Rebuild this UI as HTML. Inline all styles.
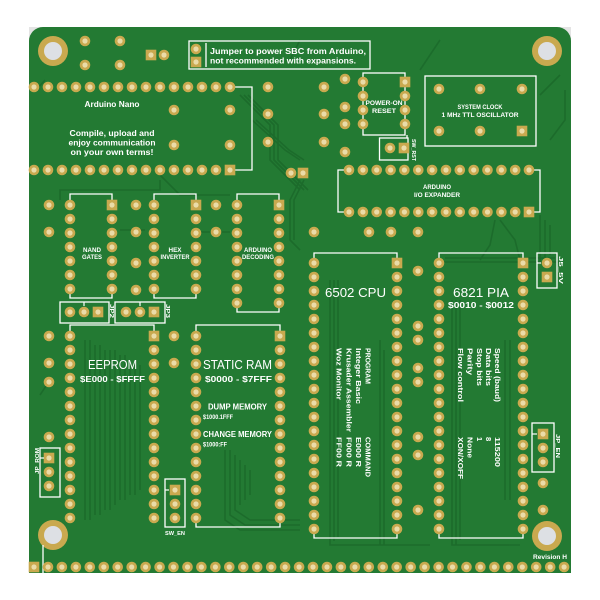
<!DOCTYPE html>
<html><head><meta charset="utf-8"><style>
html,body{margin:0;padding:0;background:#fff;width:600px;height:600px;overflow:hidden}
svg{display:block}
text{font-family:"Liberation Sans",sans-serif;fill:#fff;font-weight:bold}
</style></head><body>
<svg width="600" height="600" viewBox="0 0 600 600" xmlns="http://www.w3.org/2000/svg">
<defs>
<g id="p"><circle r="5.3" fill="#c9a94f"/><circle r="2.6" fill="#eadca8"/></g>
<g id="s"><rect x="-5.3" y="-5.3" width="10.6" height="10.6" fill="#c9a94f"/><circle r="2.6" fill="#eadca8"/></g>
<g id="mh"><circle r="15" fill="#c9a94f"/><circle r="9" fill="#dde0e4"/></g>
</defs>
<!-- corner greys -->
<rect x="29" y="27" width="16" height="16" fill="#e4e4e4"/>
<rect x="555" y="27" width="16" height="16" fill="#e4e4e4"/>
<!-- board -->
<path d="M43 27 H557 A14 14 0 0 1 571 41 V573 H29 V41 A14 14 0 0 1 43 27 Z" fill="#237a33"/>
<!-- traces (darker copper) -->
<g fill="none" stroke="#1c6a2b" stroke-width="1.6" opacity="0.9">
<path d="M240 95 L270 125 L270 160 L300 190"/><path d="M244 95 L274 125 L274 160 L304 190"/><path d="M248 95 L278 125 L278 160 L308 190"/>
<path d="M252 120 L285 150 L300 160"/><path d="M256 120 L289 150 L304 160"/>
<path d="M300 180 L290 200 L290 240 L300 250"/><path d="M304 180 L294 200 L294 240"/>
<path d="M85 340 V520"/><path d="M90 340 V520"/><path d="M95 345 V515"/><path d="M100 345 V515"/><path d="M105 350 V510"/><path d="M110 350 V510"/><path d="M115 350 V505"/><path d="M120 355 V500"/><path d="M125 355 V500"/><path d="M130 360 V495"/><path d="M135 360 V495"/><path d="M140 365 V490"/>
<path d="M225 450 V520 L240 530 H300"/><path d="M230 450 V515 L245 525 H300"/><path d="M235 455 V510 L250 520 H300"/><path d="M240 460 V505"/><path d="M245 465 V500"/><path d="M250 470 V495"/>
<path d="M330 280 V545 H430"/><path d="M334 280 V541"/><path d="M338 280 V537"/><path d="M380 340 V545"/><path d="M384 350 V545"/>
<path d="M452 300 V545 H520"/><path d="M456 300 V545"/><path d="M460 300 V540"/><path d="M505 340 V500"/><path d="M510 340 V500"/>
<path d="M440 262 H560"/><path d="M445 258 H555"/><path d="M540 215 V262"/><path d="M545 220 V258"/><path d="M550 225 V255"/>
<path d="M500 220 L515 240 L520 260"/><path d="M495 220 L490 245 L480 260"/>
<path d="M60 200 V190 H160 V180"/><path d="M120 230 H145"/><path d="M200 232 H230"/>
<path d="M160 175 L180 195 H230"/><path d="M540 95 L560 75"/><path d="M550 140 L565 120 V90"/>
<path d="M36 90 L45 80"/><path d="M50 380 L40 395"/><path d="M300 40 L290 60"/><path d="M420 70 L440 40"/>
</g>
<!-- mounting holes -->
<use href="#mh" x="53" y="51"/><use href="#mh" x="547" y="51"/><use href="#mh" x="53" y="535"/><use href="#mh" x="547" y="536"/>
<!-- silkscreen lines -->
<g fill="none" stroke="#fff" stroke-width="1.3">
<rect x="189" y="41" width="181" height="28"/><line x1="206" y1="43" x2="206" y2="67"/>
<path d="M230 87 H252 V170 H230"/>
<rect x="363" y="73" width="42" height="62"/>
<rect x="379.5" y="138" width="28.5" height="22"/><line x1="407" y1="135" x2="407" y2="138"/>
<rect x="425" y="76" width="111" height="70"/>
<path d="M345 170 H338 V212 H345"/><path d="M533 170 H540 V212 H533"/>
<path d="M70 200 V194 H112 V200"/><path d="M70 294 V298 H112 V294"/>
<path d="M154 200 V194 H196 V200"/><path d="M154 294 V298 H196 V294"/>
<path d="M237 200 V194 H279 V200"/><path d="M237 308 V312 H279 V308"/>
<rect x="60" y="302" width="49" height="21"/><rect x="115" y="302" width="50" height="21"/>
<path d="M70 331 V325 H154 V331"/>
<path d="M196 331 V325 H280 V331"/><path d="M196 522 V527 H280 V522"/>
<path d="M314 258 V253 H397 V258"/><path d="M314 534 V538 H397 V534"/>
<path d="M439 258 V253 H523 V258"/><path d="M439 534 V538 H523 V534"/>
<rect x="537" y="253" width="20" height="35"/>
<rect x="532" y="423" width="22" height="49"/>
<rect x="40" y="448" width="20" height="49"/>
<rect x="165" y="479" width="20" height="48"/>
<line x1="43" y1="545" x2="43" y2="573"/>
</g>
<!-- pads -->
<g>
<!-- arduino nano rows -->
<use href="#p" x="34" y="87"/><use href="#p" x="48" y="87"/><use href="#p" x="62" y="87"/><use href="#p" x="76" y="87"/><use href="#p" x="90" y="87"/><use href="#p" x="104" y="87"/><use href="#p" x="118" y="87"/><use href="#p" x="132" y="87"/><use href="#p" x="146" y="87"/><use href="#p" x="160" y="87"/><use href="#p" x="174" y="87"/><use href="#p" x="188" y="87"/><use href="#p" x="202" y="87"/><use href="#p" x="216" y="87"/><use href="#p" x="230" y="87"/>
<use href="#p" x="34" y="170"/><use href="#p" x="48" y="170"/><use href="#p" x="62" y="170"/><use href="#p" x="76" y="170"/><use href="#p" x="90" y="170"/><use href="#p" x="104" y="170"/><use href="#p" x="118" y="170"/><use href="#p" x="132" y="170"/><use href="#p" x="146" y="170"/><use href="#p" x="160" y="170"/><use href="#p" x="174" y="170"/><use href="#p" x="188" y="170"/><use href="#p" x="202" y="170"/><use href="#p" x="216" y="170"/><use href="#s" x="230" y="170"/>
<use href="#p" x="174" y="110"/><use href="#p" x="230" y="110"/><use href="#p" x="174" y="145"/><use href="#p" x="230" y="145"/>
<use href="#p" x="268" y="87"/><use href="#p" x="268" y="114"/><use href="#p" x="268" y="142"/>
<use href="#p" x="291" y="173"/><use href="#s" x="303" y="173"/>
<!-- top-left -->
<use href="#p" x="85" y="41"/><use href="#p" x="120" y="41"/><use href="#p" x="85" y="65"/><use href="#p" x="120" y="65"/>
<use href="#s" x="151" y="55"/><use href="#p" x="164" y="55"/>
<use href="#p" x="196" y="49"/><use href="#s" x="196" y="62"/>
<!-- top-right cluster -->
<use href="#p" x="324" y="87"/><use href="#p" x="345" y="79"/><use href="#p" x="345" y="107"/><use href="#p" x="324" y="114"/><use href="#p" x="345" y="124"/><use href="#p" x="324" y="142"/><use href="#p" x="345" y="152"/>
<use href="#p" x="363" y="82"/><use href="#p" x="363" y="96"/><use href="#p" x="363" y="110"/><use href="#p" x="363" y="124"/>
<use href="#s" x="405" y="82"/><use href="#p" x="405" y="96"/><use href="#p" x="405" y="110"/><use href="#p" x="405" y="124"/>
<use href="#p" x="390" y="148"/><use href="#s" x="404" y="148"/>
<use href="#p" x="439" y="89"/><use href="#p" x="480" y="89"/><use href="#p" x="522" y="89"/><use href="#p" x="439" y="131"/><use href="#p" x="480" y="131"/><use href="#s" x="522" y="131"/>
<!-- IO expander -->
<use href="#p" x="349" y="170"/><use href="#p" x="362.9" y="170"/><use href="#p" x="376.7" y="170"/><use href="#p" x="390.6" y="170"/><use href="#p" x="404.4" y="170"/><use href="#p" x="418.3" y="170"/><use href="#p" x="432.1" y="170"/><use href="#p" x="446" y="170"/><use href="#p" x="459.8" y="170"/><use href="#p" x="473.7" y="170"/><use href="#p" x="487.5" y="170"/><use href="#p" x="501.4" y="170"/><use href="#p" x="515.2" y="170"/><use href="#p" x="529" y="170"/>
<use href="#p" x="349" y="212"/><use href="#p" x="362.9" y="212"/><use href="#p" x="376.7" y="212"/><use href="#p" x="390.6" y="212"/><use href="#p" x="404.4" y="212"/><use href="#p" x="418.3" y="212"/><use href="#p" x="432.1" y="212"/><use href="#p" x="446" y="212"/><use href="#p" x="459.8" y="212"/><use href="#p" x="473.7" y="212"/><use href="#p" x="487.5" y="212"/><use href="#p" x="501.4" y="212"/><use href="#p" x="515.2" y="212"/><use href="#s" x="529" y="212"/>
<use href="#p" x="314" y="232"/><use href="#p" x="369" y="232"/><use href="#p" x="391" y="232"/><use href="#p" x="418" y="232"/><use href="#p" x="418" y="271"/>
<!-- NAND -->
<use href="#p" x="70" y="205"/><use href="#p" x="70" y="219"/><use href="#p" x="70" y="233"/><use href="#p" x="70" y="247"/><use href="#p" x="70" y="261"/><use href="#p" x="70" y="275"/><use href="#p" x="70" y="289"/>
<use href="#s" x="112" y="205"/><use href="#p" x="112" y="219"/><use href="#p" x="112" y="233"/><use href="#p" x="112" y="247"/><use href="#p" x="112" y="261"/><use href="#p" x="112" y="275"/><use href="#p" x="112" y="289"/>
<use href="#p" x="49" y="205"/><use href="#p" x="49" y="232"/>
<!-- HEX -->
<use href="#p" x="154" y="205"/><use href="#p" x="154" y="219"/><use href="#p" x="154" y="233"/><use href="#p" x="154" y="247"/><use href="#p" x="154" y="261"/><use href="#p" x="154" y="275"/><use href="#p" x="154" y="289"/>
<use href="#s" x="196" y="205"/><use href="#p" x="196" y="219"/><use href="#p" x="196" y="233"/><use href="#p" x="196" y="247"/><use href="#p" x="196" y="261"/><use href="#p" x="196" y="275"/><use href="#p" x="196" y="289"/>
<use href="#p" x="136" y="205"/><use href="#p" x="136" y="232"/><use href="#p" x="136" y="263"/><use href="#p" x="136" y="290"/>
<!-- Decoding -->
<use href="#p" x="237" y="205"/><use href="#p" x="237" y="219"/><use href="#p" x="237" y="233"/><use href="#p" x="237" y="247"/><use href="#p" x="237" y="261"/><use href="#p" x="237" y="275"/><use href="#p" x="237" y="289"/><use href="#p" x="237" y="303"/>
<use href="#s" x="279" y="205"/><use href="#p" x="279" y="219"/><use href="#p" x="279" y="233"/><use href="#p" x="279" y="247"/><use href="#p" x="279" y="261"/><use href="#p" x="279" y="275"/><use href="#p" x="279" y="289"/><use href="#p" x="279" y="303"/>
<use href="#p" x="216" y="205"/><use href="#p" x="216" y="232"/>
<!-- jumpers -->
<use href="#p" x="70" y="312"/><use href="#p" x="84" y="312"/><use href="#s" x="98" y="312"/>
<use href="#p" x="126" y="312"/><use href="#p" x="140" y="312"/><use href="#s" x="154" y="312"/>
<!-- EEPROM -->
<use href="#p" x="70" y="336"/><use href="#p" x="70" y="350"/><use href="#p" x="70" y="364"/><use href="#p" x="70" y="378"/><use href="#p" x="70" y="392"/><use href="#p" x="70" y="406"/><use href="#p" x="70" y="420"/><use href="#p" x="70" y="434"/><use href="#p" x="70" y="448"/><use href="#p" x="70" y="462"/><use href="#p" x="70" y="476"/><use href="#p" x="70" y="490"/><use href="#p" x="70" y="504"/><use href="#p" x="70" y="518"/>
<use href="#s" x="154" y="336"/><use href="#p" x="154" y="350"/><use href="#p" x="154" y="364"/><use href="#p" x="154" y="378"/><use href="#p" x="154" y="392"/><use href="#p" x="154" y="406"/><use href="#p" x="154" y="420"/><use href="#p" x="154" y="434"/><use href="#p" x="154" y="448"/><use href="#p" x="154" y="462"/><use href="#p" x="154" y="476"/><use href="#p" x="154" y="490"/><use href="#p" x="154" y="504"/><use href="#p" x="154" y="518"/>
<use href="#p" x="49" y="336"/><use href="#p" x="49" y="363"/><use href="#p" x="49" y="382"/><use href="#p" x="49" y="437"/>
<use href="#s" x="49" y="458"/><use href="#p" x="49" y="472"/><use href="#p" x="49" y="486"/>
<!-- SRAM -->
<use href="#p" x="196" y="336"/><use href="#p" x="196" y="350"/><use href="#p" x="196" y="364"/><use href="#p" x="196" y="378"/><use href="#p" x="196" y="392"/><use href="#p" x="196" y="406"/><use href="#p" x="196" y="420"/><use href="#p" x="196" y="434"/><use href="#p" x="196" y="448"/><use href="#p" x="196" y="462"/><use href="#p" x="196" y="476"/><use href="#p" x="196" y="490"/><use href="#p" x="196" y="504"/><use href="#p" x="196" y="518"/>
<use href="#s" x="280" y="336"/><use href="#p" x="280" y="350"/><use href="#p" x="280" y="364"/><use href="#p" x="280" y="378"/><use href="#p" x="280" y="392"/><use href="#p" x="280" y="406"/><use href="#p" x="280" y="420"/><use href="#p" x="280" y="434"/><use href="#p" x="280" y="448"/><use href="#p" x="280" y="462"/><use href="#p" x="280" y="476"/><use href="#p" x="280" y="490"/><use href="#p" x="280" y="504"/><use href="#p" x="280" y="518"/>
<use href="#p" x="174" y="336"/><use href="#p" x="174" y="363"/>
<use href="#s" x="175" y="490"/><use href="#p" x="175" y="504"/><use href="#p" x="175" y="518"/>
<!-- CPU -->
<use href="#p" x="314" y="263"/><use href="#p" x="314" y="277"/><use href="#p" x="314" y="291"/><use href="#p" x="314" y="305"/><use href="#p" x="314" y="319"/><use href="#p" x="314" y="333"/><use href="#p" x="314" y="347"/><use href="#p" x="314" y="361"/><use href="#p" x="314" y="375"/><use href="#p" x="314" y="389"/><use href="#p" x="314" y="403"/><use href="#p" x="314" y="417"/><use href="#p" x="314" y="431"/><use href="#p" x="314" y="445"/><use href="#p" x="314" y="459"/><use href="#p" x="314" y="473"/><use href="#p" x="314" y="487"/><use href="#p" x="314" y="501"/><use href="#p" x="314" y="515"/><use href="#p" x="314" y="529"/>
<use href="#s" x="397" y="263"/><use href="#p" x="397" y="277"/><use href="#p" x="397" y="291"/><use href="#p" x="397" y="305"/><use href="#p" x="397" y="319"/><use href="#p" x="397" y="333"/><use href="#p" x="397" y="347"/><use href="#p" x="397" y="361"/><use href="#p" x="397" y="375"/><use href="#p" x="397" y="389"/><use href="#p" x="397" y="403"/><use href="#p" x="397" y="417"/><use href="#p" x="397" y="431"/><use href="#p" x="397" y="445"/><use href="#p" x="397" y="459"/><use href="#p" x="397" y="473"/><use href="#p" x="397" y="487"/><use href="#p" x="397" y="501"/><use href="#p" x="397" y="515"/><use href="#p" x="397" y="529"/>
<use href="#p" x="418" y="326"/><use href="#p" x="418" y="340"/><use href="#p" x="418" y="368"/><use href="#p" x="418" y="382"/><use href="#p" x="418" y="437"/><use href="#p" x="418" y="455"/><use href="#p" x="418" y="510"/>
<!-- PIA -->
<use href="#p" x="439" y="263"/><use href="#p" x="439" y="277"/><use href="#p" x="439" y="291"/><use href="#p" x="439" y="305"/><use href="#p" x="439" y="319"/><use href="#p" x="439" y="333"/><use href="#p" x="439" y="347"/><use href="#p" x="439" y="361"/><use href="#p" x="439" y="375"/><use href="#p" x="439" y="389"/><use href="#p" x="439" y="403"/><use href="#p" x="439" y="417"/><use href="#p" x="439" y="431"/><use href="#p" x="439" y="445"/><use href="#p" x="439" y="459"/><use href="#p" x="439" y="473"/><use href="#p" x="439" y="487"/><use href="#p" x="439" y="501"/><use href="#p" x="439" y="515"/><use href="#p" x="439" y="529"/>
<use href="#s" x="523" y="263"/><use href="#p" x="523" y="277"/><use href="#p" x="523" y="291"/><use href="#p" x="523" y="305"/><use href="#p" x="523" y="319"/><use href="#p" x="523" y="333"/><use href="#p" x="523" y="347"/><use href="#p" x="523" y="361"/><use href="#p" x="523" y="375"/><use href="#p" x="523" y="389"/><use href="#p" x="523" y="403"/><use href="#p" x="523" y="417"/><use href="#p" x="523" y="431"/><use href="#p" x="523" y="445"/><use href="#p" x="523" y="459"/><use href="#p" x="523" y="473"/><use href="#p" x="523" y="487"/><use href="#p" x="523" y="501"/><use href="#p" x="523" y="515"/><use href="#p" x="523" y="529"/>
<use href="#p" x="547" y="263"/><use href="#s" x="547" y="277"/>
<use href="#s" x="543" y="434"/><use href="#p" x="543" y="448"/><use href="#p" x="543" y="462"/><use href="#p" x="543" y="483"/><use href="#p" x="543" y="510"/>
<!-- bottom row -->
<use href="#s" x="34" y="567"/><use href="#p" x="48" y="567"/><use href="#p" x="61.9" y="567"/><use href="#p" x="75.9" y="567"/><use href="#p" x="89.8" y="567"/><use href="#p" x="103.8" y="567"/><use href="#p" x="117.7" y="567"/><use href="#p" x="131.7" y="567"/><use href="#p" x="145.6" y="567"/><use href="#p" x="159.6" y="567"/><use href="#p" x="173.5" y="567"/><use href="#p" x="187.5" y="567"/><use href="#p" x="201.4" y="567"/><use href="#p" x="215.4" y="567"/><use href="#p" x="229.3" y="567"/><use href="#p" x="243.3" y="567"/><use href="#p" x="257.2" y="567"/><use href="#p" x="271.2" y="567"/><use href="#p" x="285.1" y="567"/><use href="#p" x="299.1" y="567"/><use href="#p" x="313" y="567"/><use href="#p" x="327" y="567"/><use href="#p" x="340.9" y="567"/><use href="#p" x="354.9" y="567"/><use href="#p" x="368.8" y="567"/><use href="#p" x="382.8" y="567"/><use href="#p" x="396.7" y="567"/><use href="#p" x="410.7" y="567"/><use href="#p" x="424.6" y="567"/><use href="#p" x="438.6" y="567"/><use href="#p" x="452.5" y="567"/><use href="#p" x="466.5" y="567"/><use href="#p" x="480.4" y="567"/><use href="#p" x="494.4" y="567"/><use href="#p" x="508.3" y="567"/><use href="#p" x="522.3" y="567"/><use href="#p" x="536.2" y="567"/><use href="#p" x="550.2" y="567"/><use href="#p" x="564.1" y="567"/>
</g>
<!-- small white connector ticks -->
<g stroke="#fff" stroke-width="1.2" fill="none">
<path d="M537 263 H541"/><path d="M532 434 H537"/><path d="M40 458 H44"/><path d="M165 490 H169"/>
<path d="M84 306 V302"/><path d="M140 306 V302"/>
</g>
<!-- texts -->
<text x="210" y="54" font-size="8" textLength="156" lengthAdjust="spacingAndGlyphs">Jumper to power SBC from Arduino,</text>
<text x="210" y="63.5" font-size="8" textLength="146" lengthAdjust="spacingAndGlyphs">not recommended with expansions.</text>
<text x="112" y="107" font-size="8" text-anchor="middle" textLength="55" lengthAdjust="spacingAndGlyphs">Arduino Nano</text>
<text x="112" y="136" font-size="8" text-anchor="middle" textLength="85" lengthAdjust="spacingAndGlyphs">Compile, upload and</text>
<text x="112" y="145.5" font-size="8" text-anchor="middle" textLength="87" lengthAdjust="spacingAndGlyphs">enjoy communication</text>
<text x="112" y="155" font-size="8" text-anchor="middle" textLength="83" lengthAdjust="spacingAndGlyphs">on your own terms!</text>
<text x="384" y="105" font-size="6" text-anchor="middle" textLength="37" lengthAdjust="spacingAndGlyphs">POWER-ON</text>
<text x="384" y="113" font-size="6" text-anchor="middle" textLength="24" lengthAdjust="spacingAndGlyphs">RESET</text>
<text x="480" y="109" font-size="6" text-anchor="middle" textLength="45" lengthAdjust="spacingAndGlyphs">SYSTEM CLOCK</text>
<text x="480" y="117" font-size="6" text-anchor="middle" textLength="77" lengthAdjust="spacingAndGlyphs">1 MHz TTL OSCILLATOR</text>
<text x="437" y="189" font-size="6" text-anchor="middle" textLength="28" lengthAdjust="spacingAndGlyphs">ARDUINO</text>
<text x="437" y="197" font-size="6" text-anchor="middle" textLength="46" lengthAdjust="spacingAndGlyphs">I/O EXPANDER</text>
<text x="92" y="252" font-size="6" text-anchor="middle" textLength="18" lengthAdjust="spacingAndGlyphs">NAND</text>
<text x="92" y="259" font-size="6" text-anchor="middle" textLength="20" lengthAdjust="spacingAndGlyphs">GATES</text>
<text x="175" y="252" font-size="6" text-anchor="middle" textLength="13" lengthAdjust="spacingAndGlyphs">HEX</text>
<text x="175" y="259" font-size="6" text-anchor="middle" textLength="29" lengthAdjust="spacingAndGlyphs">INVERTER</text>
<text x="258" y="252" font-size="6" text-anchor="middle" textLength="28" lengthAdjust="spacingAndGlyphs">ARDUINO</text>
<text x="258" y="259" font-size="6" text-anchor="middle" textLength="32" lengthAdjust="spacingAndGlyphs">DECODING</text>
<text x="325" y="297" font-size="13" font-weight="normal" textLength="61" lengthAdjust="spacingAndGlyphs" style="font-weight:normal">6502 CPU</text>
<text x="453" y="297" font-size="13" textLength="56" lengthAdjust="spacingAndGlyphs" style="font-weight:normal">6821 PIA</text>
<text x="481" y="308" font-size="8.5" text-anchor="middle" textLength="66" lengthAdjust="spacingAndGlyphs">$0010 - $0012</text>
<text x="88" y="369" font-size="13" textLength="49" lengthAdjust="spacingAndGlyphs" style="font-weight:normal">EEPROM</text>
<text x="112.5" y="382" font-size="8.5" text-anchor="middle" textLength="65" lengthAdjust="spacingAndGlyphs">$E000 - $FFFF</text>
<text x="203" y="369" font-size="13" textLength="69" lengthAdjust="spacingAndGlyphs" style="font-weight:normal">STATIC RAM</text>
<text x="238.5" y="382" font-size="8.5" text-anchor="middle" textLength="67" lengthAdjust="spacingAndGlyphs">$0000 - $7FFF</text>
<text x="208" y="409.5" font-size="8" textLength="59" lengthAdjust="spacingAndGlyphs">DUMP MEMORY</text>
<text x="203" y="419" font-size="6" textLength="30" lengthAdjust="spacingAndGlyphs">$1000.1FFF</text>
<text x="203" y="437" font-size="8" textLength="69" lengthAdjust="spacingAndGlyphs">CHANGE MEMORY</text>
<text x="203" y="446.5" font-size="6" textLength="24" lengthAdjust="spacingAndGlyphs">$1000:FF</text>
<!-- CPU rotated -->
<g font-size="7.5">
<text transform="translate(365.7,348) rotate(90)" textLength="36" lengthAdjust="spacingAndGlyphs">PROGRAM</text>
<text transform="translate(356.2,348) rotate(90)" textLength="56" lengthAdjust="spacingAndGlyphs">Integer Basic</text>
<text transform="translate(346.4,348) rotate(90)" textLength="84" lengthAdjust="spacingAndGlyphs">Krusader Assembler</text>
<text transform="translate(336.6,348) rotate(90)" textLength="52" lengthAdjust="spacingAndGlyphs">Woz Monitor</text>
<text transform="translate(365.7,437) rotate(90)" textLength="40" lengthAdjust="spacingAndGlyphs">COMMAND</text>
<text transform="translate(356.2,437) rotate(90)" textLength="30" lengthAdjust="spacingAndGlyphs">E000 R</text>
<text transform="translate(346.4,437) rotate(90)" textLength="30" lengthAdjust="spacingAndGlyphs">F000 R</text>
<text transform="translate(336.6,437) rotate(90)" textLength="30" lengthAdjust="spacingAndGlyphs">FF00 R</text>
<!-- PIA rotated -->
<text transform="translate(495.2,348) rotate(90)" textLength="54" lengthAdjust="spacingAndGlyphs">Speed (baud)</text>
<text transform="translate(486,348) rotate(90)" textLength="38" lengthAdjust="spacingAndGlyphs">Data bits</text>
<text transform="translate(476.8,348) rotate(90)" textLength="38" lengthAdjust="spacingAndGlyphs">Stop bits</text>
<text transform="translate(467.5,348) rotate(90)" textLength="27" lengthAdjust="spacingAndGlyphs">Parity</text>
<text transform="translate(458.2,348) rotate(90)" textLength="54" lengthAdjust="spacingAndGlyphs">Flow control</text>
<text transform="translate(495.2,437) rotate(90)" textLength="30" lengthAdjust="spacingAndGlyphs">115200</text>
<text transform="translate(486,437) rotate(90)">8</text>
<text transform="translate(476.8,437) rotate(90)">1</text>
<text transform="translate(467.5,437) rotate(90)" textLength="21" lengthAdjust="spacingAndGlyphs">None</text>
<text transform="translate(458.2,437) rotate(90)" textLength="42" lengthAdjust="spacingAndGlyphs">XON/XOFF</text>
</g>
<!-- small ref labels -->
<g font-size="5.5">
<text transform="translate(412,139) rotate(90)" textLength="22" lengthAdjust="spacingAndGlyphs">SW_RST</text>
<text transform="translate(110,304) rotate(90)" textLength="14" lengthAdjust="spacingAndGlyphs">JP2</text>
<text transform="translate(166,304) rotate(90)" textLength="14" lengthAdjust="spacingAndGlyphs">JP3</text>
<text transform="translate(559,256) rotate(90)" textLength="28" lengthAdjust="spacingAndGlyphs">J5_5V</text>
<text transform="translate(556,434) rotate(90)" textLength="24" lengthAdjust="spacingAndGlyphs">JP_EN</text>
<text transform="translate(39,474) rotate(-90)" textLength="26" lengthAdjust="spacingAndGlyphs">JP_ROM</text>
<text x="175" y="535" text-anchor="middle" textLength="20" lengthAdjust="spacingAndGlyphs">SW_EN</text>
</g>
<text x="550" y="559" font-size="6.5" text-anchor="middle" textLength="34" lengthAdjust="spacingAndGlyphs">Revision H</text>
</svg>
</body></html>
